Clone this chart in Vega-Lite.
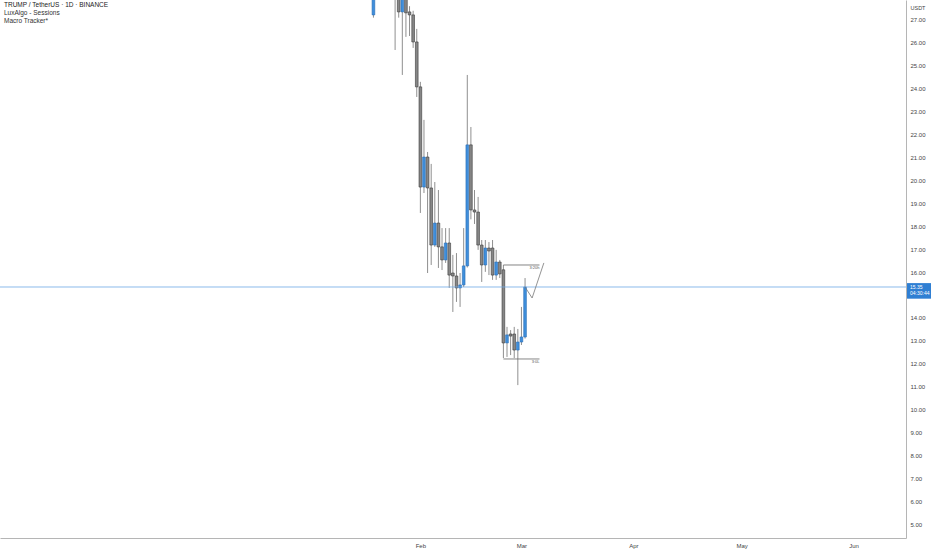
{
  "$schema": "https://vega.github.io/schema/vega-lite/v6.json",
  "width": 906,
  "height": 538,
  "autosize": {"type": "none"},
  "padding": {"left": 0, "top": 0, "right": 26, "bottom": 12},
  "background": "#ffffff",
  "config": {
    "view": {"stroke": null},
    "font": "Liberation Sans",
    "axis": {"grid": false, "ticks": false, "labelFont": "Liberation Sans", "labelColor": "#444", "labelFontSize": 6, "domainColor": "#b5b5b5", "domainWidth": 1, "labelOverlap": false}
  },
  "title": {
    "text": "TRUMP / TetherUS · 1D · BINANCE",
    "subtitle": ["LuxAlgo - Sessions", "Macro Tracker*"],
    "anchor": "start",
    "frame": "group",
    "orient": "top",
    "offset": -24,
    "dx": 4,
    "font": "Liberation Sans",
    "fontSize": 6.5,
    "fontWeight": "normal",
    "color": "#222222",
    "subtitleFont": "Liberation Sans",
    "subtitleFontSize": 6.5,
    "subtitleColor": "#333333",
    "subtitlePadding": 1.5,
    "subtitleLineHeight": 7.5
  },
  "datasets": {
    "candles": [
      {"d": "2025-01-19", "o": 27.22, "h": 73.4, "l": 27.1, "c": 43.5},
      {"d": "2025-01-20", "o": 43.5, "h": 55.0, "l": 34.0, "c": 42.5},
      {"d": "2025-01-21", "o": 42.5, "h": 44.0, "l": 35.5, "c": 37.5},
      {"d": "2025-01-22", "o": 37.5, "h": 40.0, "l": 34.0, "c": 38.0},
      {"d": "2025-01-23", "o": 38.0, "h": 40.0, "l": 32.0, "c": 33.0},
      {"d": "2025-01-24", "o": 33.0, "h": 34.5, "l": 29.8, "c": 30.5},
      {"d": "2025-01-25", "o": 30.5, "h": 31.0, "l": 25.69, "c": 28.6},
      {"d": "2025-01-26", "o": 28.6, "h": 29.2, "l": 27.1, "c": 27.35},
      {"d": "2025-01-27", "o": 27.35, "h": 29.5, "l": 24.6, "c": 28.3},
      {"d": "2025-01-28", "o": 28.3, "h": 28.8, "l": 26.26, "c": 27.31},
      {"d": "2025-01-29", "o": 27.35, "h": 27.6, "l": 26.3, "c": 27.22},
      {"d": "2025-01-30", "o": 27.22, "h": 27.4, "l": 25.78, "c": 26.04},
      {"d": "2025-01-31", "o": 26.04, "h": 26.61, "l": 23.64, "c": 24.08},
      {"d": "2025-02-01", "o": 24.08, "h": 24.3, "l": 18.58, "c": 19.71},
      {"d": "2025-02-02", "o": 19.71, "h": 22.64, "l": 19.45, "c": 21.02},
      {"d": "2025-02-03", "o": 21.02, "h": 21.24, "l": 15.96, "c": 19.67},
      {"d": "2025-02-04", "o": 19.67, "h": 20.72, "l": 16.31, "c": 17.18},
      {"d": "2025-02-05", "o": 17.18, "h": 19.93, "l": 17.1, "c": 18.14},
      {"d": "2025-02-06", "o": 18.14, "h": 19.58, "l": 16.18, "c": 17.1},
      {"d": "2025-02-07", "o": 17.1, "h": 17.92, "l": 16.09, "c": 16.53},
      {"d": "2025-02-08", "o": 16.53, "h": 17.92, "l": 16.4, "c": 17.27},
      {"d": "2025-02-09", "o": 17.27, "h": 17.92, "l": 15.31, "c": 15.87},
      {"d": "2025-02-10", "o": 15.96, "h": 16.75, "l": 14.26, "c": 15.83},
      {"d": "2025-02-11", "o": 15.83, "h": 16.83, "l": 14.7, "c": 15.31},
      {"d": "2025-02-12", "o": 15.31, "h": 15.96, "l": 14.48, "c": 15.44},
      {"d": "2025-02-13", "o": 15.44, "h": 17.92, "l": 15.35, "c": 16.27},
      {"d": "2025-02-14", "o": 16.27, "h": 24.6, "l": 16.2, "c": 21.55},
      {"d": "2025-02-15", "o": 21.55, "h": 22.33, "l": 18.3, "c": 18.71},
      {"d": "2025-02-16", "o": 18.71, "h": 19.58, "l": 18.1, "c": 18.62},
      {"d": "2025-02-17", "o": 18.62, "h": 19.28, "l": 16.97, "c": 17.18},
      {"d": "2025-02-18", "o": 17.18, "h": 17.4, "l": 15.57, "c": 16.31},
      {"d": "2025-02-19", "o": 16.31, "h": 17.4, "l": 16.01, "c": 17.05},
      {"d": "2025-02-20", "o": 17.05, "h": 17.31, "l": 15.87, "c": 16.92},
      {"d": "2025-02-21", "o": 17.05, "h": 17.4, "l": 15.66, "c": 15.87},
      {"d": "2025-02-22", "o": 15.87, "h": 16.97, "l": 15.66, "c": 16.44},
      {"d": "2025-02-23", "o": 16.44, "h": 16.53, "l": 15.74, "c": 15.92},
      {"d": "2025-02-24", "o": 16.1, "h": 16.31, "l": 12.25, "c": 12.91},
      {"d": "2025-02-25", "o": 12.91, "h": 13.61, "l": 12.3, "c": 13.26},
      {"d": "2025-02-26", "o": 13.3, "h": 13.47, "l": 12.38, "c": 13.21},
      {"d": "2025-02-27", "o": 13.3, "h": 13.61, "l": 12.25, "c": 12.6},
      {"d": "2025-02-28", "o": 12.6, "h": 13.52, "l": 11.07, "c": 12.95},
      {"d": "2025-03-01", "o": 12.95, "h": 14.48, "l": 12.82, "c": 13.17},
      {"d": "2025-03-02", "o": 13.17, "h": 15.74, "l": 13.1, "c": 15.35}
    ],
    "levels": [
      {"d": "2025-02-24", "d2": "2025-03-06", "p": 16.31, "label": "3:20h", "pos": "top"},
      {"d": "2025-02-24", "d2": "2025-03-06", "p": 12.21, "label": "3:0L", "pos": "bottom"}
    ],
    "path": [
      {"d": "2025-03-02T00:00:00Z", "p": 15.35},
      {"d": "2025-03-03T23:00:00Z", "p": 14.87},
      {"d": "2025-03-07T05:00:00Z", "p": 16.4}
    ],
    "last": [
      {"p": 15.35, "price": "15.35", "timer": "04:30:44"}
    ]
  },
  "layer": [
    {
      "data": {"name": "candles"},
      "mark": {"type": "rule", "color": "#8f8f8f", "strokeWidth": 1, "clip": true},
      "encoding": {
        "x": {"field": "d", "type": "temporal", "title": null,
              "scale": {"type": "utc", "domain": [1728425952000, 1749872160000]},
              "axis": {"orient": "bottom", "values": [1738368000000, 1740787200000, 1743465600000, 1746057600000, 1748736000000], "tickCount": 20, "labelExpr": "utcFormat(datum.value, '%b')", "labelPadding": 4, "labelFontSize": 6, "labelOverlap": false}},
        "y": {"field": "l", "type": "quantitative", "title": "USDT",
              "scale": {"domain": [4.4, 27.87], "nice": false, "zero": false},
              "axis": {"orient": "right", "values": [5,6,7,8,9,10,11,12,13,14,16,17,18,19,20,21,22,23,24,25,26,27], "tickCount": 40, "labelExpr": "format(datum.value, '.2f')", "labelOverlap": false, "labelPadding": 4, "labelAlign": "left", "labelFontSize": 6, "titleAngle": 0, "titleAlign": "left", "titleBaseline": "middle", "titleX": 4, "titleY": 7, "titleFontSize": 5.5, "titleFontWeight": "normal", "titleColor": "#444"}},
        "y2": {"field": "h"}
      }
    },
    {
      "data": {"name": "candles"},
      "mark": {"type": "bar", "size": 2.7, "strokeWidth": 0.6, "clip": true},
      "encoding": {
        "x": {"field": "d", "type": "temporal", "title": null,
              "scale": {"type": "utc", "domain": [1728425952000, 1749872160000]}},
        "y": {"field": "o", "type": "quantitative", "title": "USDT",
              "scale": {"domain": [4.4, 27.87], "nice": false, "zero": false}},
        "y2": {"field": "c"},
        "fill": {"condition": {"test": "datum.c >= datum.o", "value": "#3f8fdc"}, "value": "#878787"},
        "stroke": {"condition": {"test": "datum.c >= datum.o", "value": "#2a6db5"}, "value": "#3a3a3a"}
      }
    },
    {
      "data": {"values": [{"p": 15.35}]},
      "mark": {"type": "rule", "color": "#6fa8e6", "strokeWidth": 0.8},
      "encoding": {
        "y": {"field": "p", "type": "quantitative", "title": "USDT",
              "scale": {"domain": [4.4, 27.87], "nice": false, "zero": false}}
      }
    },
    {
      "data": {"name": "levels"},
      "mark": {"type": "rule", "color": "#666666", "strokeWidth": 0.8},
      "encoding": {
        "x": {"field": "d", "type": "temporal", "title": null,
              "scale": {"type": "utc", "domain": [1728425952000, 1749872160000]}},
        "x2": {"field": "d2"},
        "y": {"field": "p", "type": "quantitative", "title": "USDT",
              "scale": {"domain": [4.4, 27.87], "nice": false, "zero": false}}
      }
    },
    {
      "data": {"name": "levels"},
      "mark": {"type": "text", "fontSize": 4, "color": "#555", "align": "right"},
      "encoding": {
        "x": {"field": "d2", "type": "temporal", "title": null,
              "scale": {"type": "utc", "domain": [1728425952000, 1749872160000]}},
        "y": {"field": "p", "type": "quantitative", "title": "USDT",
              "scale": {"domain": [4.4, 27.87], "nice": false, "zero": false}},
        "yOffset": {"condition": {"test": "datum.pos === 'top'", "value": -3}, "value": 3},
        "text": {"field": "label"}
      }
    },
    {
      "data": {"name": "path"},
      "mark": {"type": "line", "color": "#777777", "strokeWidth": 0.8},
      "encoding": {
        "x": {"field": "d", "type": "temporal", "title": null,
              "scale": {"type": "utc", "domain": [1728425952000, 1749872160000]}},
        "y": {"field": "p", "type": "quantitative", "title": "USDT",
              "scale": {"domain": [4.4, 27.87], "nice": false, "zero": false}}
      }
    },
    {
      "data": {"name": "last"},
      "mark": {"type": "rect", "color": "#2f7fd3", "clip": false},
      "encoding": {
        "x": {"datum": 1750016160000, "type": "temporal", "title": null,
              "scale": {"type": "utc", "domain": [1728425952000, 1749872160000]}},
        "x2": {"datum": 1750590000000},
        "y": {"datum": 15.52, "type": "quantitative", "title": "USDT",
              "scale": {"domain": [4.4, 27.87], "nice": false, "zero": false}},
        "y2": {"datum": 14.84}
      }
    },
    {
      "data": {"name": "last"},
      "mark": {"type": "text", "color": "#ffffff", "fontSize": 5, "align": "left", "dx": 3, "dy": 0},
      "encoding": {
        "x": {"datum": 1750016160000, "type": "temporal", "title": null,
              "scale": {"type": "utc", "domain": [1728425952000, 1749872160000]}},
        "y": {"field": "p", "type": "quantitative", "title": "USDT",
              "scale": {"domain": [4.4, 27.87], "nice": false, "zero": false}},
        "text": {"field": "price"}
      }
    },
    {
      "data": {"name": "last"},
      "mark": {"type": "text", "color": "#ffffff", "fontSize": 5, "align": "left", "dx": 3, "dy": 6.5},
      "encoding": {
        "x": {"datum": 1750016160000, "type": "temporal", "title": null,
              "scale": {"type": "utc", "domain": [1728425952000, 1749872160000]}},
        "y": {"field": "p", "type": "quantitative", "title": "USDT",
              "scale": {"domain": [4.4, 27.87], "nice": false, "zero": false}},
        "text": {"field": "timer"}
      }
    }
  ]
}
